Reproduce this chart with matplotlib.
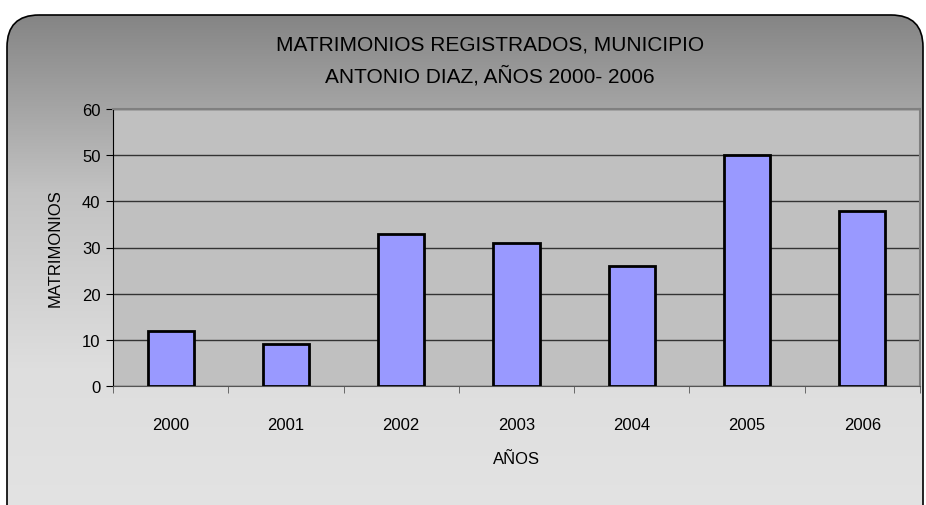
import numpy as np
import matplotlib
matplotlib.use('Agg')
import matplotlib.pyplot as plt
from matplotlib.patches import FancyBboxPatch

years = ['2000', '2001', '2002', '2003', '2004', '2005', '2006']
matrimonios = [12, 9, 33, 31, 26, 50, 38]
y_ticks = [0, 10, 20, 30, 40, 50, 60]

plt.rcParams['font.family'] = ['Liberation Sans', 'DejaVu Sans']

W, H = 926, 506
fig = plt.figure(figsize=(W / 100, H / 100), dpi=100)
fig.patch.set_facecolor('white')

# background rounded box with vertical gray gradient
bg = fig.add_axes([0, 0, 1, 1])
bg.set_xlim(0, W)
bg.set_ylim(H, 0)
bg.axis('off')
grad = np.linspace(0, 1, 256).reshape(-1, 1)
cmap = matplotlib.colors.LinearSegmentedColormap.from_list('g', ['#858585', '#c2c2c2', '#dedede', '#e4e4e4'])
im = bg.imshow(grad, extent=[7, W, H + 40, 16], cmap=cmap, aspect='auto', zorder=0)
box = FancyBboxPatch((7, 16), W - 10, H + 20, boxstyle='round,pad=0,rounding_size=32',
                     facecolor='none', edgecolor='black', linewidth=1.2, zorder=1)
bg.add_patch(box)
im.set_clip_path(box)

# plot area
x0, x1, ytop, ybot = 113, 920, 110, 387
ax = fig.add_axes([x0 / W, 1 - ybot / H, (x1 - x0) / W, (ybot - ytop) / H])
ax.set_facecolor('#c0c0c0')
x = np.arange(len(years))
ax.bar(x, matrimonios, width=0.4, color='#9999ff', edgecolor='black', linewidth=2, zorder=3)
ax.set_xlim(-0.5, len(years) - 0.5)
ax.set_ylim(0, 60)
ax.set_yticks(y_ticks)
ax.yaxis.grid(True, color='#333333', linewidth=1, zorder=1)
ax.set_axisbelow(True)
ax.set_xticks(x)
ax.set_xticklabels(years, fontsize=12)
ax.set_xticks(np.arange(len(years) + 1) - 0.5, minor=True)
ax.tick_params(axis='x', which='major', length=0, pad=22)
ax.tick_params(axis='x', which='minor', length=5, color='#555555')
ax.tick_params(axis='y', labelsize=12, length=5, color='black', pad=4)
for s in ['top', 'right']:
    ax.spines[s].set_color('#808080')
    ax.spines[s].set_linewidth(1.5)
ax.spines['left'].set_color('black')
ax.spines['bottom'].set_color('#555555')
ax.set_xlabel('AÑOS', fontsize=12, labelpad=14)
ax.set_ylabel('MATRIMONIOS', fontsize=12, labelpad=14)

fig.text(490 / W, 1 - 45 / H, 'MATRIMONIOS REGISTRADOS, MUNICIPIO', ha='center', va='center', fontsize=15)
fig.text(490 / W, 1 - 76 / H, 'ANTONIO DIAZ, AÑOS 2000- 2006', ha='center', va='center', fontsize=15)

fig.savefig('out.png', dpi=100)
